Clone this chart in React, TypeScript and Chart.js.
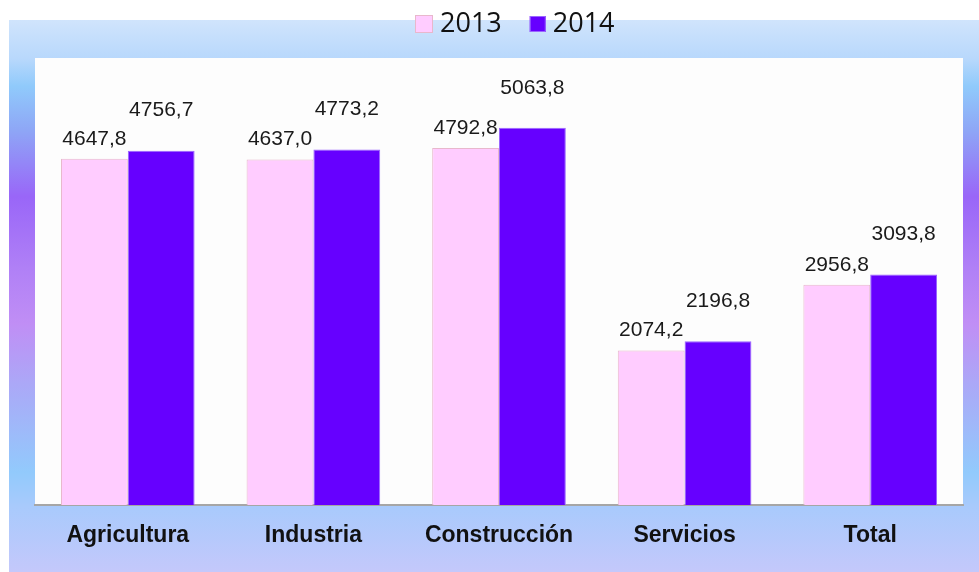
import React, { useEffect, useRef } from "react";
import { Chart, registerables } from "chart.js";

Chart.register(...registerables);

const categories = ["Agricultura", "Industria", "Construcción", "Servicios", "Total"];
const values2013 = [4647.8, 4637.0, 4792.8, 2074.2, 2956.8];
const values2014 = [4756.7, 4773.2, 5063.8, 2196.8, 3093.8];
const seriesLabels = ["2013", "2014"];
const yMin = 0;
const yMax = 6000;

const fmt = (v: number) => v.toFixed(1).replace(".", ",");

const backgroundPlugin = {
  id: "bgPanel",
  beforeDraw(chart: any) {
    const ctx = chart.ctx;
    const W = chart.width;
    const H = chart.height;
    ctx.save();
    ctx.fillStyle = "#ffffff";
    ctx.fillRect(0, 0, W, H);
    const top = 20;
    const g = ctx.createLinearGradient(0, top, 0, H);
    g.addColorStop(0, "#d0e4fc");
    g.addColorStop(0.07, "#b8d8fc");
    g.addColorStop(0.12, "#90cafb");
    g.addColorStop(0.2, "#8ea6f6");
    g.addColorStop(0.32, "#9966f8");
    g.addColorStop(0.45, "#b080f6");
    g.addColorStop(0.55, "#c08ef5");
    g.addColorStop(0.66, "#aba8f7");
    g.addColorStop(0.82, "#92cafc");
    g.addColorStop(0.88, "#a8cafc");
    g.addColorStop(1, "#c4c8fb");
    ctx.fillStyle = g;
    ctx.fillRect(9, top, W - 9, H - top);
    const a = chart.chartArea;
    ctx.fillStyle = "#fdfdfd";
    ctx.fillRect(a.left, a.top, a.right - a.left, a.bottom - a.top);
    ctx.restore();
  },
};

const labelsPlugin = {
  id: "valueLabels",
  afterDatasetsDraw(chart: any) {
    const ctx = chart.ctx;
    ctx.save();
    ctx.font = "21px 'Liberation Sans', Arial, sans-serif";
    ctx.fillStyle = "#1a1a1a";
    ctx.textAlign = "center";
    ctx.textBaseline = "middle";
    const offsets = [20, 40];
    chart.data.datasets.forEach((ds: any, di: number) => {
      const meta = chart.getDatasetMeta(di);
      meta.data.forEach((bar: any, i: number) => {
        ctx.fillText(fmt(ds.data[i]), bar.x, bar.y - offsets[di]);
      });
    });
    ctx.restore();
  },
};

const legendPlugin = {
  id: "customLegend",
  afterDraw(chart: any) {
    const ctx = chart.ctx;
    ctx.save();
    ctx.font = "27px 'Open Sans', sans-serif";
    ctx.textBaseline = "middle";
    ctx.fillStyle = "#111111";
    let x = 415;
    const cy = 24;
    chart.data.datasets.forEach((ds: any, i: number) => {
      const box = i === 0 ? 18 : 16;
      ctx.fillStyle = ds.backgroundColor;
      ctx.fillRect(x, cy - box / 2, box, box);
      ctx.strokeStyle = ds.borderColor;
      ctx.lineWidth = 1;
      ctx.strokeRect(x + 0.5, cy - box / 2 + 0.5, box - 1, box - 1);
      x += box + 7;
      ctx.fillStyle = "#111111";
      ctx.textAlign = "left";
      ctx.fillText(ds.label, x, cy);
      x += ctx.measureText(ds.label).width + 28;
    });
    ctx.restore();
  },
};

export default function App() {
  const ref = useRef<HTMLCanvasElement | null>(null);
  useEffect(() => {
    document.body.style.margin = "0";
    if (!ref.current) return;
    const chart = new Chart(ref.current, {
      type: "bar",
      data: {
        labels: categories,
        datasets: [
          {
            label: seriesLabels[0],
            data: values2013,
            backgroundColor: "#ffccff",
            borderColor: "#e8b8cc",
            borderWidth: 1,
            categoryPercentage: 0.72,
            barPercentage: 1,
          },
          {
            label: seriesLabels[1],
            data: values2014,
            backgroundColor: "#6600ff",
            borderColor: "#9a66ff",
            borderWidth: 1,
            categoryPercentage: 0.72,
            barPercentage: 1,
          },
        ],
      },
      options: {
        responsive: false,
        animation: false,
        layout: { padding: { left: 35, right: 16, top: 58, bottom: 0 } },
        plugins: {
          legend: { display: false },
          tooltip: { enabled: false },
        },
        scales: {
          x: {
            grid: { display: false },
            border: { display: true, color: "#a6a6a6", width: 2 },
            ticks: {
              color: "#111111",
              padding: 9,
              font: { family: "'Liberation Sans', Arial, sans-serif", size: 23, weight: "bold" },
            },
            afterFit: (s: any) => {
              s.height = 67;
            },
          },
          y: {
            display: false,
            min: yMin,
            max: yMax,
          },
        },
      },
      plugins: [backgroundPlugin, labelsPlugin, legendPlugin],
    });
    return () => chart.destroy();
  }, []);
  return (
    <div style={{ width: 979, height: 572 }}>
      <canvas ref={ref} width={979} height={572} style={{ display: "block" }} />
    </div>
  );
}
